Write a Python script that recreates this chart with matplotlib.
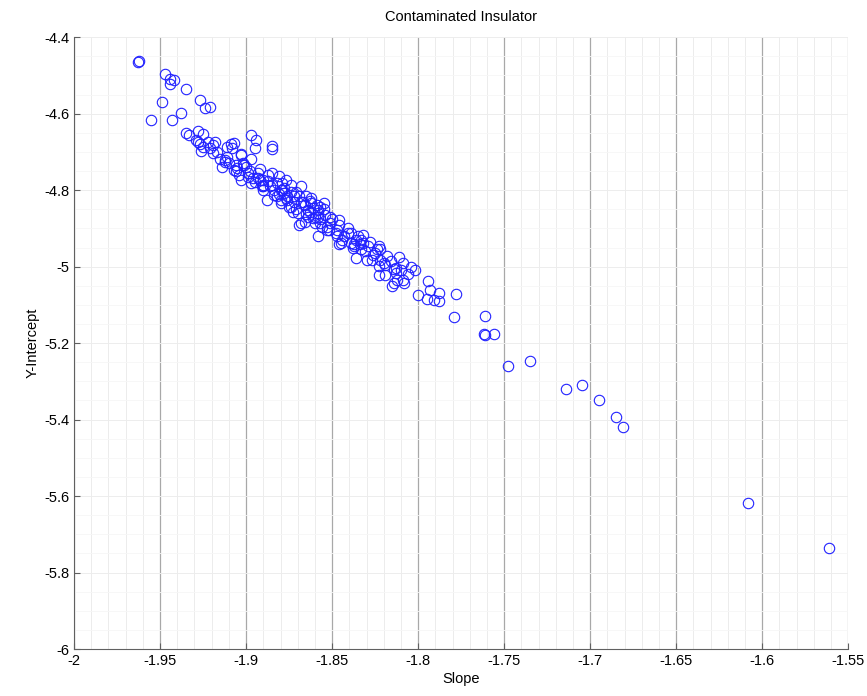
import matplotlib
matplotlib.use("Agg")
from matplotlib import pyplot as plt
from matplotlib.ticker import MultipleLocator, FuncFormatter

plt.rcParams["font.family"] = ["Liberation Sans", "DejaVu Sans"]
plt.rcParams["axes.unicode_minus"] = False

# values (slope, y-intercept)
slope = [
    -1.963, -1.962, -1.947, -1.944, -1.942, -1.944, -1.935, -1.927, -1.924, -1.921,
    -1.949, -1.938, -1.943, -1.955, -1.935, -1.933, -1.928, -1.925, -1.918, -1.928,
    -1.897, -1.894, -1.885, -1.885, -1.911, -1.908,
    -1.929, -1.927, -1.925, -1.922, -1.919, -1.919, -1.926, -1.909, -1.911, -1.912,
    -1.914, -1.906, -1.903, -1.902, -1.897, -1.898, -1.896, -1.892, -1.893, -1.887,
    -1.890, -1.885, -1.881, -1.878, -1.884, -1.880, -1.876, -1.888,
    -1.907, -1.903, -1.901, -1.906, -1.890, -1.885, -1.882, -1.886, -1.890, -1.878,
    -1.876, -1.880, -1.873, -1.868, -1.867, -1.862, -1.861, -1.864, -1.858, -1.857,
    -1.854, -1.851, -1.856, -1.860, -1.869, -1.847, -1.895,
    -1.877, -1.879, -1.872, -1.875, -1.865, -1.862, -1.863, -1.868, -1.858, -1.857,
    -1.855, -1.851, -1.846, -1.852, -1.858, -1.844, -1.846, -1.841, -1.839, -1.835,
    -1.833, -1.836, -1.829, -1.825, -1.827, -1.822, -1.822, -1.818, -1.823,
    -1.847, -1.839, -1.837, -1.832, -1.832, -1.830, -1.823, -1.819, -1.823, -1.819,
    -1.813, -1.809, -1.810, -1.809, -1.814, -1.815, -1.802, -1.794, -1.793, -1.800,
    -1.788, -1.812, -1.813, -1.808, -1.795, -1.791, -1.788, -1.778, -1.779,
    -1.761, -1.762, -1.761, -1.756, -1.748, -1.735, -1.714, -1.705, -1.695, -1.685,
    -1.681, -1.608, -1.561,
    -1.912, -1.899, -1.897, -1.892, -1.882, -1.874, -1.870, -1.864, -1.860, -1.866,
    -1.853, -1.845, -1.837, -1.833, -1.858, -1.868, -1.880, -1.890, -1.903, -1.907,
    -1.874, -1.871,
    -1.917, -1.915, -1.921, -1.910, -1.905, -1.904, -1.900, -1.899, -1.895, -1.893,
    -1.891, -1.887, -1.884, -1.881, -1.879, -1.877, -1.874, -1.872, -1.871, -1.869,
    -1.866, -1.865, -1.863, -1.861, -1.859, -1.857, -1.855, -1.853, -1.850, -1.848,
    -1.846, -1.843, -1.841, -1.838, -1.836, -1.834, -1.831, -1.828, -1.826, -1.824,
    -1.820, -1.816, -1.814, -1.811, -1.806, -1.804,
]
intercept = [
    -4.466, -4.461, -4.497, -4.508, -4.512, -4.523, -4.536, -4.564, -4.584, -4.583,
    -4.570, -4.599, -4.616, -4.617, -4.651, -4.656, -4.645, -4.654, -4.673, -4.673,
    -4.655, -4.669, -4.684, -4.693, -4.686, -4.690,
    -4.670, -4.679, -4.688, -4.673, -4.682, -4.702, -4.697, -4.679, -4.712, -4.725,
    -4.740, -4.734, -4.706, -4.728, -4.719, -4.751, -4.769, -4.745, -4.769, -4.760,
    -4.786, -4.786, -4.764, -4.795, -4.812, -4.825, -4.816, -4.825,
    -4.677, -4.708, -4.734, -4.751, -4.773, -4.755, -4.782, -4.790, -4.799, -4.808,
    -4.825, -4.834, -4.856, -4.790, -4.830, -4.821, -4.847, -4.869, -4.869, -4.843,
    -4.864, -4.886, -4.895, -4.886, -4.890, -4.903, -4.690,
    -4.773, -4.799, -4.816, -4.843, -4.816, -4.834, -4.856, -4.886, -4.860, -4.886,
    -4.834, -4.869, -4.877, -4.903, -4.921, -4.929, -4.942, -4.912, -4.938, -4.921,
    -4.955, -4.977, -4.947, -4.964, -4.982, -4.955, -4.982, -4.973, -4.999,
    -4.921, -4.912, -4.942, -4.916, -4.938, -4.982, -4.947, -4.995, -5.021, -5.021,
    -5.016, -4.990, -5.008, -5.034, -5.042, -5.051, -5.008, -5.038, -5.060, -5.073,
    -5.068, -5.034, -5.003, -5.042, -5.084, -5.086, -5.090, -5.071, -5.131,
    -5.129, -5.175, -5.180, -5.177, -5.261, -5.248, -5.321, -5.310, -5.348, -5.394,
    -5.419, -5.617, -5.735,
    -4.721, -4.755, -4.782, -4.773, -4.816, -4.843, -4.860, -4.851, -4.869, -4.882,
    -4.903, -4.938, -4.947, -4.929, -4.851, -4.830, -4.799, -4.790, -4.773, -4.747,
    -4.786, -4.804,
    -4.700, -4.718, -4.690, -4.730, -4.742, -4.760, -4.740, -4.765, -4.778, -4.755,
    -4.790, -4.775, -4.800, -4.810, -4.780, -4.820, -4.805, -4.830, -4.850, -4.815,
    -4.840, -4.862, -4.828, -4.872, -4.840, -4.876, -4.850, -4.895, -4.875, -4.912,
    -4.890, -4.920, -4.900, -4.952, -4.930, -4.942, -4.960, -4.935, -4.970, -4.955,
    -4.990, -4.985, -5.005, -4.975, -5.020, -5.000,
]

fig = plt.figure(figsize=(8.67, 6.96), dpi=100)
ax = fig.add_axes([0.0854, 0.0675, 0.893, 0.879])

ax.plot(slope, intercept, linestyle="none", marker="o", markersize=7.5,
        markerfacecolor="none", markeredgecolor="#2222ff", markeredgewidth=0.8,
        zorder=3)

ax.set_xlim(-2, -1.55)
ax.set_ylim(-6, -4.4)
ax.xaxis.set_major_locator(MultipleLocator(0.05))
ax.xaxis.set_minor_locator(MultipleLocator(0.01))
ax.yaxis.set_major_locator(MultipleLocator(0.2))
ax.yaxis.set_minor_locator(MultipleLocator(0.05))
fmt = FuncFormatter(lambda v, pos: "%g" % round(v, 3))
ax.xaxis.set_major_formatter(fmt)
ax.yaxis.set_major_formatter(fmt)

ax.grid(True, axis="x", which="major", color="#a8a8a8", linewidth=0.9)
ax.grid(True, axis="x", which="minor", color="#ececec", linewidth=0.7)
ax.grid(True, axis="y", which="major", color="#ededed", linewidth=0.7)
ax.grid(True, axis="y", which="minor", color="#f6f6f6", linewidth=0.6)
ax.set_axisbelow(True)

for side in ("top", "right"):
    ax.spines[side].set_visible(False)
for side in ("left", "bottom"):
    ax.spines[side].set_color("#606060")
ax.tick_params(which="both", direction="in", colors="#606060", labelcolor="black",
               labelsize=10.5)
ax.tick_params(which="minor", length=0)
ax.tick_params(which="major", length=4)

ax.set_title("Contaminated Insulator", fontsize=10.5, pad=12)
ax.set_xlabel("Slope", fontsize=10.5, labelpad=3)
ax.set_ylabel("Y-Intercept", fontsize=10.5, labelpad=3)

fig.savefig("out.png", dpi=100)
